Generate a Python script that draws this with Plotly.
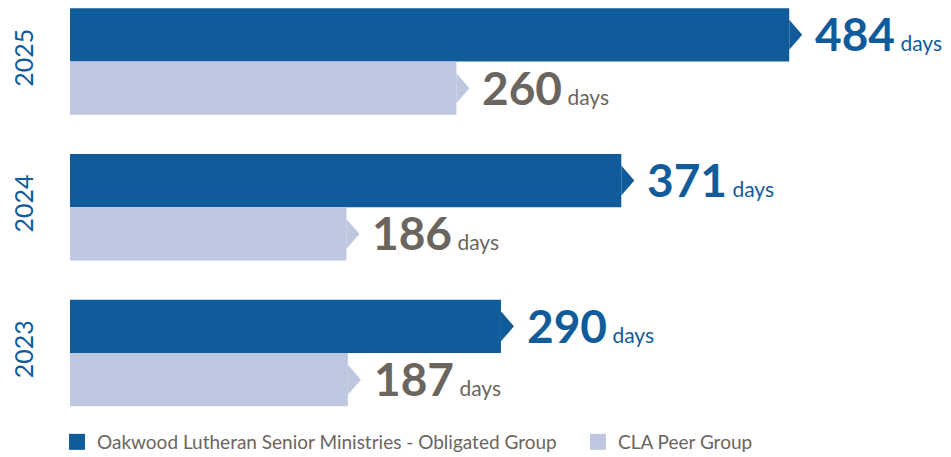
import plotly.graph_objects as go

years = ["2023", "2024", "2025"]
oakwood = [290, 371, 484]
cla = [187, 186, 260]
series_names = ["Oakwood Lutheran Senior Ministries - Obligated Group", "CLA Peer Group"]

DARK = "#105c9a"
LIGHT = "#bec6e0"
GRAY = "#6b6560"
FONT = "Lato"

# page body has an 8px margin; size the figure so it fits the 951x457 window
OFF = 8
W, H = 951 - OFF, 457 - OFF
ML, MR, MT, MB = 70 - OFF, 0, 0, 42
plot_w = W - ML - MR
plot_h = H - MT - MB
px_per_day = 1.486
x_max = plot_w / px_per_day
pitch = 145.75  # px per category
y_top = 2 + (61.5 - OFF) / pitch
y_bot = y_top - plot_h / pitch

half = 0.183
bw = 0.366
tip_dx = 13 / px_per_day
tip_h = 15 / pitch

ypos = list(range(len(years)))

fig = go.Figure()
series = [(series_names[0], oakwood, DARK, +half, DARK),
          (series_names[1], cla, LIGHT, -half, GRAY)]

for name, vals, col, off, tcol in series:
    yc = [y + off for y in ypos]
    fig.add_trace(go.Bar(x=vals, y=yc, orientation="h", width=bw,
                         marker=dict(color=col, line=dict(width=0)),
                         showlegend=False, hoverinfo="skip"))
    for v, c in zip(vals, yc):
        fig.add_trace(go.Scatter(x=[v, v + tip_dx, v, v], y=[c + tip_h, c, c - tip_h, c + tip_h],
                                 mode="lines", fill="toself", fillcolor=col,
                                 line=dict(width=0, color=col), showlegend=False,
                                 hoverinfo="skip"))
        fig.add_annotation(x=v, y=c, xref="x", yref="y", xanchor="left", yanchor="middle",
                           xshift=25, yshift=1, showarrow=False, borderpad=0,
                           text=f"<span style='font-size:46px'><b>{v}</b></span> days",
                           font=dict(family=FONT, size=21, color=tcol))

for name, col, lg in zip(series_names, [DARK, LIGHT], ["legend", "legend2"]):
    fig.add_trace(go.Scatter(x=[None], y=[None], mode="markers", name=name, legend=lg,
                             marker=dict(symbol="square", size=18, color=col)))

leg_common = dict(orientation="h", xanchor="left", y=-27 / plot_h, yanchor="middle",
                  font=dict(family=FONT, size=19, color=GRAY), itemsizing="trace",
                  itemclick=False, bgcolor="rgba(0,0,0,0)")

fig.update_layout(
    width=W, height=H,
    margin=dict(l=ML, r=MR, t=MT, b=MB, autoexpand=False),
    paper_bgcolor="white", plot_bgcolor="white",
    barmode="overlay",
    showlegend=True,
    legend=dict(x=(57 - 70) / plot_w, **leg_common),
    legend2=dict(x=(578 - 70) / plot_w, **leg_common),
    xaxis=dict(range=[0, x_max], visible=False, fixedrange=True),
    yaxis=dict(range=[y_bot, y_top], tickmode="array", tickvals=ypos, ticktext=years,
               tickangle=-90, showgrid=False, zeroline=False, showline=False,
               ticks="", ticklabelstandoff=31, automargin=False,
               tickfont=dict(family=FONT, size=25, color=DARK), fixedrange=True),
)

fig.write_html("out.html")
